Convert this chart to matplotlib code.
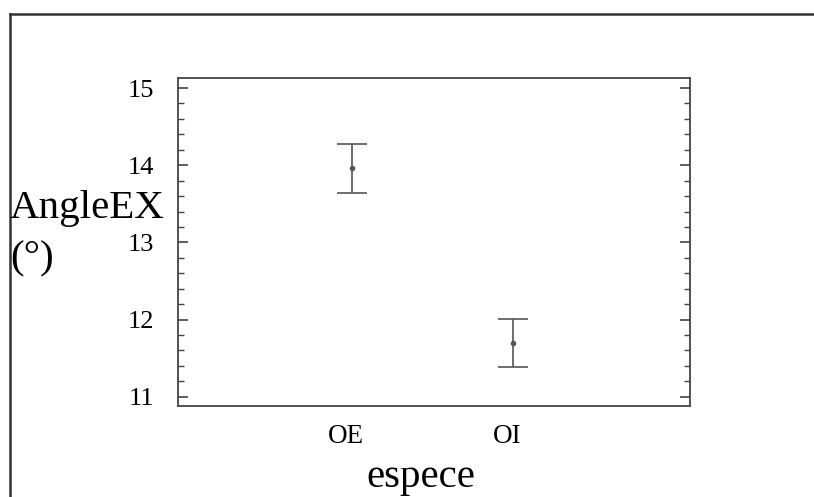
import matplotlib
matplotlib.use("Agg")
import matplotlib.pyplot as plt
from matplotlib.lines import Line2D
from matplotlib.ticker import MultipleLocator
from matplotlib.transforms import ScaledTranslation

categories = ["OE", "OI"]
means = [13.97, 11.69]
upper = [14.27, 12.01]
lower = [13.64, 11.38]
yticks = [11, 12, 13, 14, 15]

W, H = 814, 497
fig = plt.figure(figsize=(W / 100, H / 100), dpi=100)
fig.patch.set_facecolor("white")
plt.rcParams["font.family"] = ["Liberation Serif", "DejaVu Serif"]

ax = fig.add_axes([178 / W, 1 - 406 / H, (690 - 178) / W, (406 - 78) / H])
x = list(range(len(categories)))
yerr = [[m - l for m, l in zip(means, lower)], [u - m for m, u in zip(means, upper)]]
ax.errorbar(x, means, yerr=yerr, fmt="o", ms=3, color="#555555", ecolor="#555555",
            elinewidth=1.2, capsize=11, capthick=1.2)

ax.set_xlim(-1.08, 2.1)
ax.set_ylim(10.88, 15.13)
ax.set_xticks(x)
ax.set_xticklabels(categories)
ax.set_yticks(yticks)
ax.yaxis.set_minor_locator(MultipleLocator(0.2))
ax.tick_params(axis="y", which="both", direction="in", left=True, right=True,
               labelsize=19, pad=17, color="#444444")
ax.tick_params(axis="y", which="major", length=7, width=1.2)
ax.tick_params(axis="y", which="minor", length=4, width=1.0)
ax.tick_params(axis="x", length=0, labelsize=19.5, pad=13)
for lab in ax.get_xticklabels():
    lab.set_transform(lab.get_transform() + ScaledTranslation(-6 / 100, 0, fig.dpi_scale_trans))
for s in ax.spines.values():
    s.set_color("#444444")
    s.set_linewidth(1.3)

fig.text(10 / W, 1 - 218 / H, "AngleEX", fontsize=29.5, ha="left", va="baseline")
fig.text(10 / W, 1 - 268 / H, "(°)", fontsize=29.5, ha="left", va="baseline")
fig.text(421 / W, 1 - 487 / H, "espece", fontsize=29.5, ha="center", va="baseline")

fig.add_artist(Line2D([9.7 / W, 1.0], [1 - 13.5 / H, 1 - 13.5 / H], color="#333333", lw=1.8))
fig.add_artist(Line2D([9.7 / W, 9.7 / W], [1 - 13.5 / H, 0.0], color="#333333", lw=1.8))

fig.savefig("out.png", dpi=100)
